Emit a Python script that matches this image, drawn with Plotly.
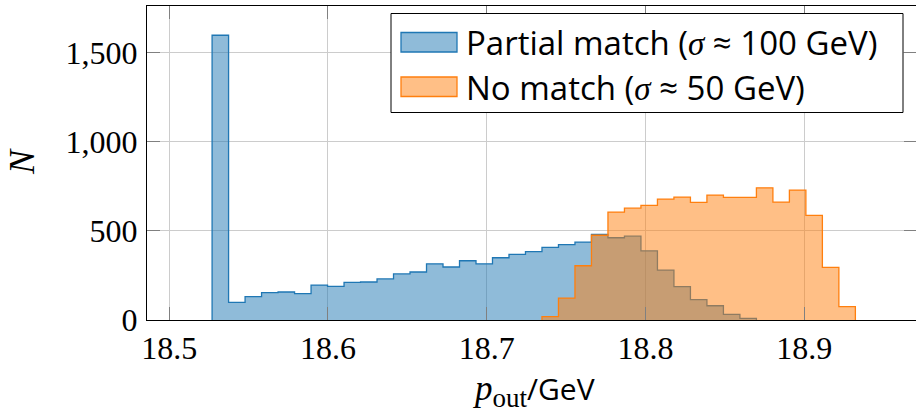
import plotly.graph_objects as go

# ---- data -------------------------------------------------------------
BIN_START = 18.527
BIN_WIDTH = 0.01039

# Partial match: 33 bins starting at bin 0
partial_counts = [1596, 99, 131, 153, 157, 148, 196, 188, 211, 213, 230, 258,
                  269, 315, 297, 332, 315, 349, 368, 383, 407, 422, 437, 480,
                  461, 470, 388, 280, 187, 114, 80, 32, 9]
partial_first_bin = 0

# No match: 19 bins starting at bin 20
nomatch_counts = [19, 123, 304, 475, 605, 627, 642, 678, 689, 659, 700, 687,
                  687, 741, 661, 728, 586, 295, 75]
nomatch_first_bin = 20

x_ticks = [18.5, 18.6, 18.7, 18.8, 18.9]
y_ticks = [0, 500, 1000, 1500]

SERIF = "'Liberation Serif'"
legend_partial = f"Partial match (<span style=\"font-family:{SERIF}\"><i>σ</i></span> ≈ 100 GeV)"
legend_nomatch = f"No match (<span style=\"font-family:{SERIF}\"><i>σ</i></span> ≈ 50 GeV)"

# ---- helpers ------------------------------------------------------------
def step_xy(first_bin, counts):
    n = len(counts)
    edges = [round(BIN_START + (first_bin + i) * BIN_WIDTH, 6) for i in range(n + 1)]
    xs = [edges[0]] + edges[:n] + [edges[n]]
    ys = [0] + list(counts) + [0]
    return xs, ys

W, H = 916, 416
ML, MR, MT, MB = 147, 0, 6, 96
PW, PH = W - ML - MR, H - MT - MB

def px(xp):
    return (xp - ML) / PW

def py(yp):
    return (H - MB - yp) / PH

fig = go.Figure()

bx, by = step_xy(partial_first_bin, partial_counts)
fig.add_trace(go.Scatter(x=bx, y=by, mode="lines", line=dict(shape="hv", color="#1f77b4", width=1.3),
                         fill="tozeroy", fillcolor="rgba(31,119,180,0.5)", showlegend=False,
                         hoverinfo="skip"))
ox, oy = step_xy(nomatch_first_bin, nomatch_counts)
fig.add_trace(go.Scatter(x=ox, y=oy, mode="lines", line=dict(shape="hv", color="#ff7f0e", width=1.3),
                         fill="tozeroy", fillcolor="rgba(255,127,14,0.5)", showlegend=False,
                         hoverinfo="skip"))
# invisible trace for mirrored right ticks
fig.add_trace(go.Scatter(x=[18.5], y=[0], yaxis="y2", mode="markers", marker=dict(opacity=0),
                         showlegend=False, hoverinfo="skip"))

tickfont = dict(family="Liberation Serif", size=32, color="black")
YR = [0, 1760]
fig.update_layout(
    width=W, height=H,
    margin=dict(l=ML, r=MR, t=MT, b=MB),
    paper_bgcolor="white", plot_bgcolor="white",
    showlegend=False,
    xaxis=dict(range=[18.486, 18.9704], tickvals=x_ticks, ticktext=[f"{v:.1f}" for v in x_ticks],
               showgrid=True, gridcolor="#cccccc", gridwidth=1, zeroline=False,
               showline=True, linecolor="black", linewidth=1, mirror="ticks",
               ticks="inside", ticklen=13, tickcolor="#808080", tickwidth=1,
               tickfont=tickfont, ticklabelstandoff=0),
    yaxis=dict(range=YR, tickvals=y_ticks, ticktext=[f"{v:,}" for v in y_ticks],
               showgrid=True, gridcolor="#cccccc", gridwidth=1, zeroline=False,
               showline=True, linecolor="black", linewidth=1, mirror=False,
               ticks="inside", ticklen=13, tickcolor="#808080", tickwidth=1,
               tickfont=tickfont, ticklabelstandoff=2),
    yaxis2=dict(range=YR, overlaying="y", side="right", tickvals=y_ticks, showticklabels=False,
                showgrid=False, zeroline=False, showline=False,
                ticks="inside", ticklen=12, tickcolor="#808080", tickwidth=1),
)

# legend box (manual)
LX0, LX1, LY0, LY1 = 391, 903, 13.5, 112.5
fig.add_shape(type="rect", xref="paper", yref="paper", x0=px(LX0), x1=px(LX1), y0=py(LY1), y1=py(LY0),
              line=dict(color="black", width=1), fillcolor="white", layer="above")
for (y0, y1, fc, lc) in [(32.5, 52, "rgba(31,119,180,0.5)", "#1f77b4"),
                         (77, 96.5, "rgba(255,127,14,0.5)", "#ff7f0e")]:
    fig.add_shape(type="rect", xref="paper", yref="paper", x0=px(401), x1=px(457), y0=py(y1), y1=py(y0),
                  line=dict(color=lc, width=1.3), fillcolor=fc, layer="above")
legfont = dict(family="Open Sans", size=33, color="black")
for txt, yc in [(legend_partial, 43), (legend_nomatch, 87)]:
    fig.add_annotation(text=txt, xref="paper", yref="paper", x=px(464), y=py(yc),
                       xanchor="left", yanchor="middle", showarrow=False, font=legfont)

# axis titles
fig.add_annotation(text="<i>N</i>", xref="paper", yref="paper", x=px(22), y=py(162),
                   xanchor="center", yanchor="middle", textangle=-90, showarrow=False,
                   font=dict(family="Liberation Serif", size=36, color="black"))
fig.add_annotation(text=("<i>p</i><sub><span style=\"font-size:27px\">out</span></sub>"
                         "<span style=\"font-family:'Open Sans';font-size:30px\">/GeV</span>"),
                   xref="paper", yref="paper", x=px(533), y=py(390),
                   xanchor="center", yanchor="middle", showarrow=False,
                   font=dict(family="Liberation Serif", size=35, color="black"))

fig.write_html("out.html")
